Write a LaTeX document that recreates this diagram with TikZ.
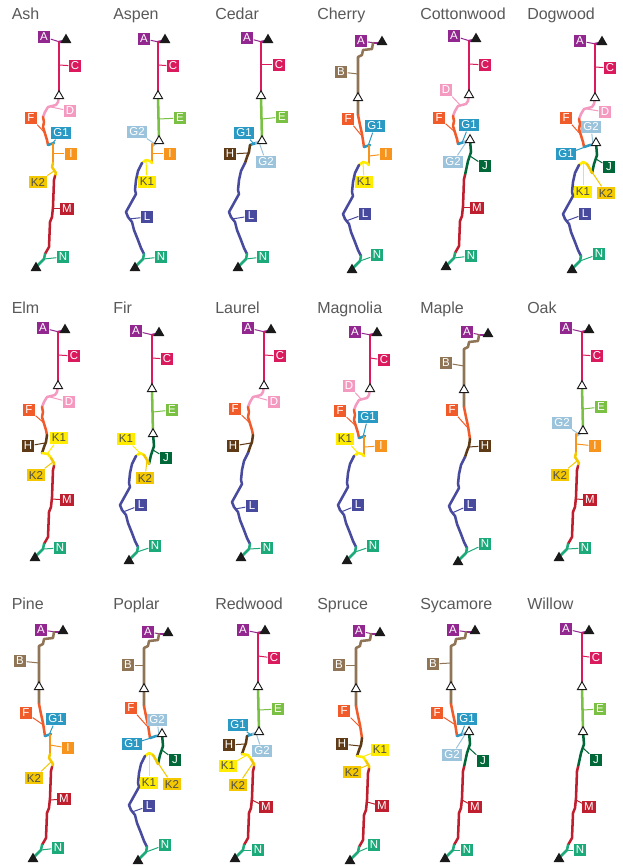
\documentclass[tikz,border=0pt]{standalone}
\usepackage{fontspec}
\setmainfont{Liberation Sans}
\usetikzlibrary{shapes.geometric}
\definecolor{Ink}{HTML}{1A1A1A}
\definecolor{TitleGray}{HTML}{595959}
\definecolor{TagInk}{HTML}{4D4D4D}
\definecolor{colA}{HTML}{92278F}
\definecolor{colB}{HTML}{8F7555}
\definecolor{colC}{HTML}{DA1A5D}
\definecolor{colD}{HTML}{F49AC1}
\definecolor{colE}{HTML}{7AC143}
\definecolor{colF}{HTML}{F15A29}
\definecolor{colG1}{HTML}{2A9AC4}
\definecolor{colG2}{HTML}{9BC4DC}
\definecolor{colH}{HTML}{5E3A17}
\definecolor{colI}{HTML}{F7941D}
\definecolor{colJ}{HTML}{006838}
\definecolor{colK1}{HTML}{FFEC00}
\definecolor{colK2}{HTML}{F4C800}
\definecolor{colL}{HTML}{484A9E}
\definecolor{colM}{HTML}{BE1E2D}
\definecolor{colN}{HTML}{1DAA7B}
\tikzset{
  routeline/.style={line width=1.9pt,line cap=round,line join=round},
  leaderline/.style={line width=0.75pt},
  tagbox/.style={inner xsep=1.5pt,inner ysep=0pt,minimum height=9.6pt,minimum width=9.6pt,font=\fontsize{8.6}{9}\selectfont,text=white},
  stopfull/.style={regular polygon,regular polygon sides=3,fill=Ink,inner sep=0pt,minimum size=9.5pt},
  stopopen/.style={regular polygon,regular polygon sides=3,draw=Ink,fill=white,line width=0.7pt,inner sep=0pt,minimum size=8pt},
  paneltitle/.style={anchor=base west,inner sep=0pt,text=TitleGray,font=\fontsize{12}{14}\selectfont}
}
% one coloured stretch with its tag: [tag options]{key}{route}{leader end}{tag centre}
\newcommand{\seg}[5][]{%
  \node[tagbox,fill=col#2,#1] (t#2) at #5 {#2};
  \draw[leaderline,draw=col#2] (t#2) -- #4;
  \draw[routeline,draw=col#2] #3;}
% stretches, all relative to the top stop
\newcommand{\segAc}[1]{\seg{A}{(-2,1) -- (-7,2)}{(-6,2)}{#1}}
\newcommand{\segAb}[1]{\seg{A}{(-2,1) -- (-9,1)}{(-7,1)}{#1}}
\newcommand{\segC}[1]{\seg{C}{(-7,2) -- (-7,53)}{(-7,25)}{#1}}
\newcommand{\segB}[1]{\seg{B}{(-9,1) -- (-10,7) -- (-19,8) -- (-20,13) -- (-24,15) -- (-24,73)}{(-24,32)}{#1}}
\newcommand{\segD}[1]{\seg{D}{(-7,56) -- (-8,62) -- (-10,65) -- (-18,67) -- (-21,72) -- (-23,77)}{(-15,67)}{#1}}
\newcommand{\segFd}[1]{\seg{F}{(-23,77) -- (-22,82) -- (-23,87) -- (-19,100) -- (-18,105)}{(-21,93)}{#1}}
\newcommand{\segFb}[1]{\seg{F}{(-24,73) -- (-23,78) -- (-22,83) -- (-20,92) -- (-18,105)}{(-21,93)}{#1}}
\newcommand{\segE}[1]{\seg{E}{(-7,56) -- (-6,101)}{(-6,79)}{#1}}
\newcommand{\segGa}[1]{\seg{G1}{(-18,105) -- (-12,103)}{(-14,104)}{#1}}
\newcommand{\segGb}[1]{\seg{G2}{(-12,103) -- (-6,101)}{(-9,102)}{#1}}
\newcommand{\segGbb}[1]{\seg{G2}{(-13,106) -- (-6,101)}{(-10,104)}{#1}}
\newcommand{\segI}[1]{\seg{I}{(-13,104) -- (-13,123)}{(-13,114)}{#1}}
\newcommand{\segKm}[1]{\seg[text=TagInk]{K2}{(-13,123) -- (-14,127) -- (-10,133) -- (-11,136)}{(-12,131)}{#1}}
\newcommand{\segKl}[1]{\seg[text=TagInk]{K1}{(-13,123) -- (-15,121) -- (-19,120) -- (-23,123)}{(-19,120)}{#1}}
\newcommand{\segKa}[1]{\seg[text=TagInk]{K1}{(-23,123) -- (-19,120) -- (-15,122)}{(-19,120)}{#1}}
\newcommand{\segKb}[1]{\seg[text=TagInk]{K2}{(-15,122) -- (-12,127) -- (-10,131)}{(-12,127)}{#1}}
\newcommand{\segKha}[1]{\seg[text=TagInk]{K1}{(-23,123) -- (-17,124) -- (-14,128)}{(-18,124)}{#1}}
\newcommand{\segKhb}[1]{\seg[text=TagInk]{K2}{(-14,128) -- (-11,133) -- (-11,136)}{(-12,132)}{#1}}
\newcommand{\segH}[1]{\seg{H}{(-18,105) -- (-19,112) -- (-21,117) -- (-23,123)}{(-20,113)}{#1}}
\newcommand{\segJm}[1]{\seg{J}{(-6,101) -- (-5,113) -- (-8,122) -- (-11,136)}{(-6,117)}{#1}}
\newcommand{\segJk}[1]{\seg{J}{(-6,101) -- (-5,113) -- (-8,122) -- (-10,131)}{(-6,117)}{#1}}
\newcommand{\segL}[1]{\seg{L}{(-23,123) -- (-27,131) -- (-29,140) -- (-30,150) -- (-29,154) -- (-34,163) -- (-39,172) -- (-37,177) -- (-33,182) -- (-31,190) -- (-27,200) -- (-24,208) -- (-21,214)}{(-36,179)}{#1}}
\newcommand{\segM}[1]{\seg{M}{(-11,136) -- (-12,140) -- (-13,167) -- (-14,177) -- (-16,182) -- (-17,207) -- (-21,214)}{(-13,169)}{#1}}
\newcommand{\segN}[1]{\seg{N}{(-21,214) -- (-22,219) -- (-28,225)}{(-22,219)}{#1}}
% stops
\newcommand{\stopsends}{\node[stopfull] (top) at (0,0) {}; \node[stopfull] (end) at (-30,228) {};}
\newcommand{\stopC}{\node[stopopen] (s1) at (-7,56) {};}
\newcommand{\stopB}{\node[stopopen] (s1) at (-24,56) {};}
\newcommand{\stopT}{\node[stopopen] (s2) at (-6,101) {};}

\begin{document}
\begin{tikzpicture}[x=0.75pt,y=-0.75pt]
  \fill[white] (0,0) rectangle (622,866);
  \useasboundingbox (0,0) rectangle (622,866);
  % titles
  \foreach \nm/\tx [count=\k] in {Ash/11.5,Aspen/113,Cedar/215,Cherry/317,Cottonwood/420,Dogwood/527}
    \node[paneltitle] (title-a\k) at (\tx,20) {\nm};
  \foreach \nm/\tx [count=\k] in {Elm/11.5,Fir/113,Laurel/215,Magnolia/317,Maple/420,Oak/527}
    \node[paneltitle] (title-b\k) at (\tx,313) {\nm};
  \foreach \nm/\tx [count=\k] in {Pine/11.5,Poplar/113,Redwood/215,Spruce/317,Sycamore/420,Willow/527}
    \node[paneltitle] (title-c\k) at (\tx,609) {\nm};

  % row 1
  \begin{scope}[shift={(66,40)},name prefix=ash-]
    \segAc{(-22,-3)} \segC{(9,26)} \segD{(4,71)} \segFd{(-35,78)} \segGa{(-5,93)}
    \segI{(5,114)} \segKm{(-28,142)} \segM{(1,169)} \segN{(-3,217)}
    \stopC \stopsends
  \end{scope}
  \begin{scope}[shift={(165,40)},name prefix=aspen-]
    \segAc{(-21,-1)} \segC{(8,26)} \segE{(15,78)} \segGbb{(-28,92)}
    \segI{(5,114)} \segKl{(-18,142)} \segL{(-18,177)} \segN{(-4,217)}
    \stopC \stopT \stopsends
  \end{scope}
  \begin{scope}[shift={(268,40)},name prefix=cedar-]
    \segAc{(-21,-2)} \segC{(11,25)} \segE{(14,77)} \segGa{(-24,93)} \segGb{(-2,122)}
    \segH{(-38,114)} \segL{(-17,176)} \segN{(-5,217)}
    \stopC \stopT \stopsends
  \end{scope}
  \begin{scope}[shift={(382,42)},name prefix=cherry-]
    \segAb{(-21,-1)} \segB{(-41,30)} \segFb{(-34,77)} \segGa{(-7,84)}
    \segI{(4,112)} \segKl{(-18,140)} \segL{(-17,172)} \segN{(-5,213)}
    \stopB \stopsends
  \end{scope}
  \begin{scope}[shift={(476,39)},name prefix=cottonwood-]
    \segAc{(-22,-3)} \segC{(9,26)} \segD{(-30,51)} \segFd{(-37,79)} \segGa{(-7,86)}
    \segGb{(-23,123)} \segJm{(9,127)} \segM{(1,169)} \segN{(-5,217)}
    \stopC \stopT \stopsends
  \end{scope}
  \begin{scope}[shift={(602,42)},name prefix=dogwood-]
    \segAc{(-22,-1)} \segC{(8,26)} \segD{(3,70)} \segFd{(-36,76)} \segGb{(-11,85)}
    \segGa{(-36,112)} \segJk{(7,125)} \segKa{(-19,150)} \segKb{(4,151)}
    \segL{(-17,172)} \segN{(-3,212)}
    \stopC \stopT \stopsends
  \end{scope}

  % row 2
  \begin{scope}[shift={(65,330)},name prefix=elm-]
    \segAc{(-22,-2)} \segC{(9,26)} \segD{(4,72)} \segFd{(-36,80)} \segH{(-37,116)}
    \segKha{(-6,108)} \segKhb{(-29,145)} \segM{(2,170)} \segN{(-5,218)}
    \stopC \stopsends
  \end{scope}
  \begin{scope}[shift={(159,333)},name prefix=fir-]
    \segAc{(-23,-2)} \segC{(8,26)} \segE{(13,77)} \segJk{(7,125)}
    \segKa{(-33,106)} \segKb{(-14,145)} \segL{(-18,172)} \segN{(-4,213)}
    \stopC \stopT \stopsends
  \end{scope}
  \begin{scope}[shift={(271,330)},name prefix=laurel-]
    \segAc{(-23,-2)} \segC{(9,26)} \segD{(3,72)} \segFd{(-36,79)} \segH{(-38,116)}
    \segL{(-19,176)} \segN{(-4,218)}
    \stopC \stopsends
  \end{scope}
  \begin{scope}[shift={(377,333)},name prefix=magnolia-]
    \segAc{(-22,-1)} \segC{(7,27)} \segD{(-28,53)} \segFd{(-37,78)} \segGa{(-9,84)}
    \segI{(4,113)} \segKl{(-32,106)} \segL{(-19,172)} \segN{(-4,213)}
    \stopC \stopsends
  \end{scope}
  \begin{scope}[shift={(488,334)},name prefix=maple-]
    \segAb{(-21,-2)} \segB{(-42,29)} \segFb{(-36,76)} \segH{(-3,112)}
    \segL{(-18,171)} \segN{(-3,210)}
    \stopB \stopsends
  \end{scope}
  \begin{scope}[shift={(589,330)},name prefix=oak-]
    \segAc{(-23,-2)} \segC{(8,26)} \segE{(12,77)} \segGbb{(-27,93)}
    \segI{(6,116)} \segKm{(-29,145)} \segM{(1,170)} \segN{(-4,218)}
    \stopC \stopT \stopsends
  \end{scope}

  % row 3
  \begin{scope}[shift={(63,631)},name prefix=pine-]
    \segAb{(-22,-1)} \segB{(-43,30)} \segFb{(-37,82)} \segGa{(-7,88)}
    \segI{(5,117)} \segKm{(-29,147)} \segM{(1,168)} \segN{(-5,217)}
    \stopB \stopsends
  \end{scope}
  \begin{scope}[shift={(168,633)},name prefix=poplar-]
    \segAb{(-20,-1)} \segB{(-40,32)} \segFb{(-37,75)} \segGb{(-11,87)}
    \segGa{(-36,111)} \segJk{(7,127)} \segKa{(-19,150)} \segKb{(4,151)}
    \segL{(-19,173)} \segN{(-3,212)}
    \stopB \stopT \stopsends
  \end{scope}
  \begin{scope}[shift={(265,631)},name prefix=redwood-]
    \segAc{(-22,-1)} \segC{(9,27)} \segE{(13,78)} \segGa{(-27,94)} \segGb{(-3,120)}
    \segH{(-36,114)} \segKha{(-37,135)} \segKhb{(-27,154)} \segM{(1,176)} \segN{(-7,219)}
    \stopC \stopT \stopsends
  \end{scope}
  \begin{scope}[shift={(380,633)},name prefix=spruce-]
    \segAb{(-21,-2)} \segB{(-41,32)} \segFb{(-36,78)} \segH{(-38,111)}
    \segKha{(0,117)} \segKhb{(-28,139)} \segM{(2,173)} \segN{(-6,212)}
    \stopB \stopsends
  \end{scope}
  \begin{scope}[shift={(475,631)},name prefix=sycamore-]
    \segAb{(-22,-1)} \segB{(-42,33)} \segFb{(-38,82)} \segGa{(-8,88)}
    \segGb{(-23,124)} \segJm{(8,130)} \segM{(0,176)} \segN{(-8,219)}
    \stopB \stopT \stopsends
  \end{scope}
  \begin{scope}[shift={(589,631)},name prefix=willow-]
    \segAc{(-23,-2)} \segC{(7,27)} \segE{(11,78)} \segJm{(7,129)}
    \segM{(0,176)} \segN{(-9,219)}
    \stopC \stopT \stopsends
  \end{scope}
\end{tikzpicture}
\end{document}
